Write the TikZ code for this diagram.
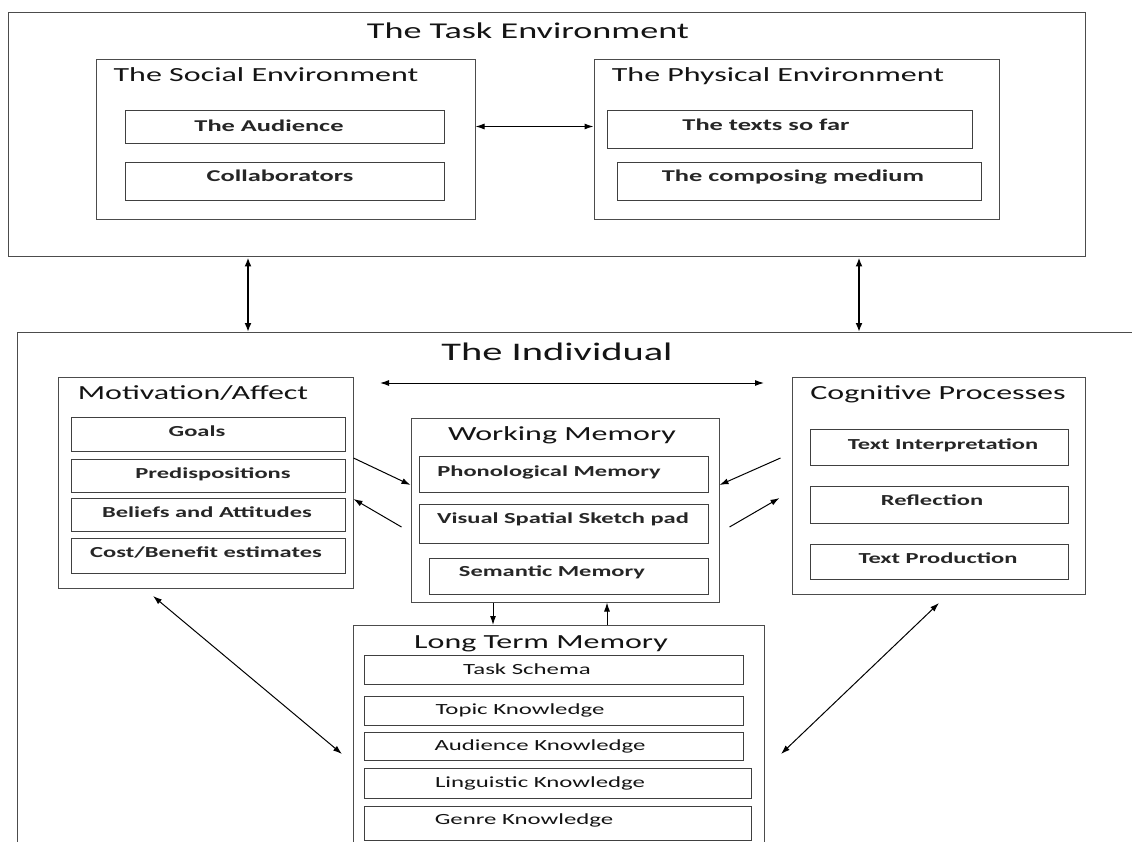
\documentclass[tikz,border=0pt]{standalone}
\usepackage{fontspec}
\newfontfamily\cfont{Carlito}[FakeStretch=1.6]
\usetikzlibrary{arrows.meta,fit}
\begin{document}
\begin{tikzpicture}[x=1pt,y=-1pt,
  obox/.style={draw=black!70, line width=1pt, inner sep=0pt},
  ibox/.style={draw=black!75, line width=0.9pt, inner sep=0pt},
  ttl/.style={font=\cfont\fontsize{20}{24}\selectfont, anchor=base, inner sep=0pt, text=black!92},
  bigttl/.style={font=\cfont\fontsize{22.6}{26}\selectfont, anchor=base, inner sep=0pt, text=black!92},
  indttl/.style={font=\cfont\fontsize{25.3}{29}\selectfont, anchor=base, inner sep=0pt, text=black!92},
  itm/.style={font=\cfont\bfseries\fontsize{15.3}{18}\selectfont, anchor=base, inner sep=0pt, text=black!85},
  titm/.style={font=\cfont\bfseries\fontsize{16.5}{19}\selectfont, anchor=base, inner sep=0pt, text=black!85},
  litm/.style={font=\cfont\fontsize{15.5}{18}\selectfont, anchor=base, inner sep=0pt, text=black!92},
  arr/.style={-{Latex[length=9pt,width=6pt]}, line width=1pt},
  dbl/.style={{Latex[length=9pt,width=6pt]}-{Latex[length=9pt,width=6pt]}, line width=1pt},
  dblthick/.style={{Latex[length=9pt,width=7pt]}-{Latex[length=9pt,width=7pt]}, line width=2pt}]
\useasboundingbox[fill=white] (0,0) rectangle (1132,842);

% ---------- Task environment ----------
\node[obox, fit={(8,13) (1085,257)}] (task) {};
\node[bigttl] (taskt) at (528,39) {The Task Environment};

\node[obox, fit={(96,60) (475,220)}] (social) {};
\node[ttl] (socialt) at (266,82) {The Social Environment};
\node[ibox, fit={(125,110) (444,143)}] (aud) {};
\node[titm] (audt) at (269,132) {The Audience};
\node[ibox, fit={(125,162) (444,200)}] (coll) {};
\node[titm] (collt) at (280,182) {Collaborators};

\node[obox, fit={(594,60) (999,220)}] (phys) {};
\node[ttl] (physt) at (778,82) {The Physical Environment};
\node[ibox, fit={(607,110) (972,148)}] (texts) {};
\node[titm] (textst) at (766,131) {The texts so far};
\node[ibox, fit={(617,162) (981,200)}] (medium) {};
\node[titm] (mediumt) at (793,182) {The composing medium};

\draw[dbl] (social.east |- aud) -- (phys.west |- aud);

% ---------- Individual ----------
\draw[obox] (17,842) |- (1132,332);
\coordinate (iA) at (248,332);
\coordinate (iB) at (859,332);
\draw[dblthick] (task.south -| iA) -- (iA);
\draw[dblthick] (task.south -| iB) -- (iB);
\node[indttl] (indt) at (557,360) {The Individual};

\coordinate (hL) at (380,383);
\coordinate (hR) at (764,383);
\draw[dbl] (hL) -- (hR);

% Motivation
\node[obox, fit={(58,377) (353,588)}] (mot) {};
\node[ttl] (mott) at (193,399) {Motivation/Affect};
\node[ibox, fit={(71,417) (345,451)}] (goals) {};
\node[itm] (goalst) at (197,436) {Goals};
\node[ibox, fit={(71,459) (345,492)}] (pred) {};
\node[itm] (predt) at (213,478) {Predispositions};
\node[ibox, fit={(71,498) (345,531)}] (bel) {};
\node[itm] (belt) at (207,517) {Beliefs and Attitudes};
\node[ibox, fit={(71,538) (345,573)}] (cost) {};
\node[itm] (costt) at (206,557) {Cost/Benefit estimates};

% Working memory
\node[obox, fit={(411,418) (719,602)}] (wm) {};
\node[ttl] (wmt) at (562,440) {Working Memory};
\node[ibox, fit={(419,456) (708,492)}] (phon) {};
\node[itm] (phont) at (549,476) {Phonological Memory};
\node[ibox, fit={(419,504) (708,543)}] (vis) {};
\node[itm] (vist) at (563,523) {Visual Spatial Sketch pad};
\node[ibox, fit={(429,558) (708,594)}] (sem) {};
\node[itm] (semt) at (552,576) {Semantic Memory};

% Cognitive processes
\node[obox, fit={(792,377) (1085,594)}] (cog) {};
\node[ttl] (cogt) at (938,399) {Cognitive Processes};
\node[ibox, fit={(810,429) (1068,465)}] (interp) {};
\node[itm] (interpt) at (943,449) {Text Interpretation};
\node[ibox, fit={(810,486) (1068,523)}] (refl) {};
\node[itm] (reflt) at (932,505) {Reflection};
\node[ibox, fit={(810,544) (1068,579)}] (prod) {};
\node[itm] (prodt) at (938,563) {Text Production};

% arrows motivation / cognitive <-> working memory
\draw[arr] (mot.east |- 0,458) -- (wm.west |- 0,485);
\draw[arr] ([xshift=-9pt]wm.west |- 0,527) -- (mot.east |- 0,499);
\draw[arr] ([xshift=-11pt]cog.west |- 0,458) -- (wm.east |- 0,485);
\draw[arr] ([xshift=10pt]wm.east |- 0,527) -- ([xshift=-12pt]cog.west |- 0,498);

% Long term memory
\draw[obox] (353,842) |- (764,625) -- (764,842);
\coordinate (lA) at (493,625);
\coordinate (lB) at (607,625);
\draw[arr] (wm.south -| lA) -- (lA);
\draw[arr] (lB) -- (wm.south -| lB);
\node[ttl] (ltmt) at (541,648) {Long Term Memory};
\node[ibox, fit={(364,655) (743,684)}] (schema) {};
\node[litm] (schemat) at (527,674) {Task Schema};
\node[ibox, fit={(364,696) (743,725)}] (topic) {};
\node[litm] (topict) at (520,714) {Topic Knowledge};
\node[ibox, fit={(364,732) (743,760)}] (audk) {};
\node[litm] (audkt) at (540,750) {Audience Knowledge};
\node[ibox, fit={(364,768) (751,798)}] (ling) {};
\node[litm] (lingt) at (540,787) {Linguistic Knowledge};
\node[ibox, fit={(364,806) (751,840)}] (genre) {};
\node[litm] (genret) at (524,824) {Genre Knowledge};

% diagonal arrows
\coordinate (dL1) at (153,596);
\coordinate (dL2) at (342,754);
\coordinate (dR1) at (939,603);
\coordinate (dR2) at (781,754);
\draw[dbl] (dL1) -- (dL2);
\draw[dbl] (dR1) -- (dR2);
\end{tikzpicture}
\end{document}
